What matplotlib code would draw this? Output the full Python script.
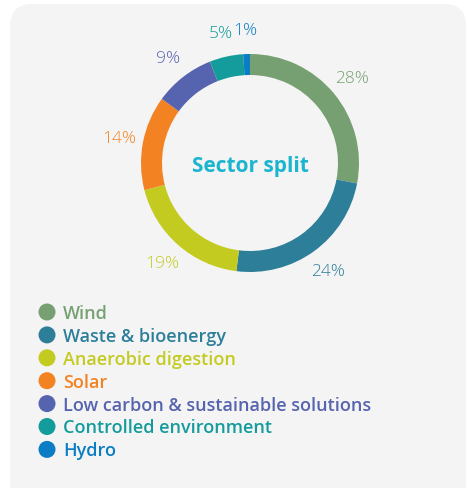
import matplotlib.pyplot as plt
from matplotlib.patches import FancyBboxPatch

# Sector split data
sectors = ['Wind', 'Waste & bioenergy', 'Anaerobic digestion', 'Solar',
           'Low carbon & sustainable solutions', 'Controlled environment', 'Hydro']
shares = [28, 24, 19, 14, 9, 5, 1]
colors = ['#76a071', '#2d7e99', '#c3cb21', '#f38322', '#5663ae', '#149b9c', '#0a7dc5']

W, H = 468, 489
fig = plt.figure(figsize=(W / 100, H / 100), dpi=100)
fig.patch.set_facecolor('white')
ax = fig.add_axes([0, 0, 1, 1])

# grey rounded panel
panel = FancyBboxPatch((10, -20), 456, H - 5 + 20,
                       boxstyle='round,pad=0,rounding_size=22',
                       fc='#f4f4f4', ec='none', zorder=0)
ax.add_patch(panel)

# donut
cx, cy, r = 250, H - 164, 109
wedges, texts, autotexts = ax.pie(
    shares, colors=colors, startangle=90, counterclock=False,
    center=(cx, cy), radius=r, frame=True,
    wedgeprops=dict(width=21, edgecolor='none'),
    autopct='%d%%', pctdistance=1.22,
    textprops=dict(fontsize=12.5, family='Open Sans', fontweight='light'))
for t, c in zip(autotexts, colors):
    t.set_color(c)

ax.text(cx, cy - 3, 'Sector split', ha='center', va='center',
        fontsize=15, fontweight='bold', color='#1bb5cf', family='Open Sans')

# legend
for i, (name, c) in enumerate(zip(sectors, colors)):
    y = H - (313 + i * 22.9)
    ax.scatter([47], [y], s=150, color=c, edgecolors='none', zorder=3)
    ax.text(63, y - 1, name, ha='left', va='center', fontsize=13,
            fontweight='semibold', color=c, family='Open Sans')

ax.set_xlim(0, W)
ax.set_ylim(0, H)
ax.set_aspect('auto')
ax.axis('off')

plt.savefig('out.png', dpi=100)
